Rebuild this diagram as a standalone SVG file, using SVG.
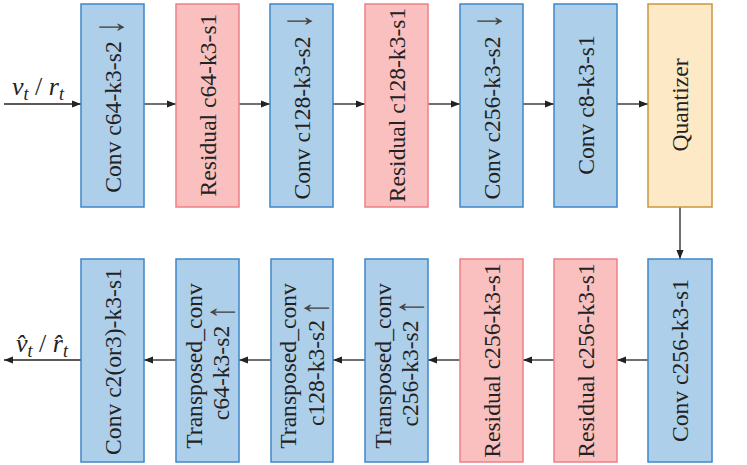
<svg xmlns="http://www.w3.org/2000/svg" width="747" height="465" viewBox="0 0 747 465">
<style>
.blue{fill:#aecfea;stroke:#3f86c8;stroke-width:1.5}
.pink{fill:#fac0bf;stroke:#ef7f87;stroke-width:1.5}
.yel{fill:#fde9c5;stroke:#c9973c;stroke-width:1.5}
.t{font-family:"Liberation Serif","Times New Roman",serif;font-size:23.6px;fill:#222;text-anchor:middle}
.ar{font-family:"Liberation Serif","Times New Roman",serif;font-size:28px;fill:#444;text-anchor:middle}
.m{font-family:"Liberation Serif","Times New Roman",serif;font-style:italic;font-size:26px;fill:#222}
.sub{font-size:18px}
.c{stroke:#222;stroke-width:1.3;fill:none}
</style>
<defs>
<marker id="ah" viewBox="0 0 10 10" refX="10" refY="5" markerWidth="9" markerHeight="9" markerUnits="userSpaceOnUse" orient="auto">
<path d="M0,1 L10,5 L0,9 Z" fill="#222"/>
</marker>
</defs>
<g id="connectors">
<line class="c" x1="4" y1="104" x2="81" y2="104" marker-end="url(#ah)"/>
<line class="c" x1="144" y1="104" x2="176" y2="104" marker-end="url(#ah)"/>
<line class="c" x1="239" y1="104" x2="270" y2="104" marker-end="url(#ah)"/>
<line class="c" x1="333" y1="104" x2="365" y2="104" marker-end="url(#ah)"/>
<line class="c" x1="428" y1="104" x2="460" y2="104" marker-end="url(#ah)"/>
<line class="c" x1="523" y1="104" x2="554" y2="104" marker-end="url(#ah)"/>
<line class="c" x1="617" y1="104" x2="648" y2="104" marker-end="url(#ah)"/>
<line class="c" x1="680" y1="207" x2="680" y2="259" marker-end="url(#ah)"/>
<line class="c" x1="648" y1="360" x2="617" y2="360" marker-end="url(#ah)"/>
<line class="c" x1="554" y1="360" x2="523" y2="360" marker-end="url(#ah)"/>
<line class="c" x1="460" y1="360" x2="428" y2="360" marker-end="url(#ah)"/>
<line class="c" x1="365" y1="360" x2="333" y2="360" marker-end="url(#ah)"/>
<line class="c" x1="271" y1="360" x2="239" y2="360" marker-end="url(#ah)"/>
<line class="c" x1="176" y1="360" x2="144" y2="360" marker-end="url(#ah)"/>
<line class="c" x1="81" y1="360" x2="4" y2="360" marker-end="url(#ah)"/>
</g>
<g id="label-in">
<text class="m" x="12" y="95">v<tspan class="sub" dy="5">t</tspan><tspan dy="-5" font-style="normal"> / </tspan>r<tspan class="sub" dy="5">t</tspan></text>
</g>
<g id="label-out">
<text class="m" x="16" y="352">v̂<tspan class="sub" dy="5">t</tspan><tspan dy="-5" font-style="normal"> / </tspan>r̂<tspan class="sub" dy="5">t</tspan></text>
</g>
<g id="n1"><rect class="blue" x="81" y="4" width="63" height="203"/><text class="t" transform="translate(120.5,117) rotate(-90)">Conv c64-k3-s2</text><text class="ar" transform="translate(123.2,27) rotate(-90) scale(1,1.5)">↓</text></g>
<g id="n2"><rect class="pink" x="176" y="4" width="63" height="203"/><text class="t" transform="translate(215.5,105) rotate(-90)">Residual c64-k3-s1</text></g>
<g id="n3"><rect class="blue" x="270" y="4" width="63" height="203"/><text class="t" transform="translate(309.5,118) rotate(-90)">Conv c128-k3-s2</text><text class="ar" transform="translate(311.2,21) rotate(-90) scale(1,1.5)">↓</text></g>
<g id="n4"><rect class="pink" x="365" y="4" width="63" height="203"/><text class="t" transform="translate(404.5,105) rotate(-90)">Residual c128-k3-s1</text></g>
<g id="n5"><rect class="blue" x="460" y="4" width="63" height="203"/><text class="t" transform="translate(499.5,118) rotate(-90)">Conv c256-k3-s2</text><text class="ar" transform="translate(501.2,21) rotate(-90) scale(1,1.5)">↓</text></g>
<g id="n6"><rect class="blue" x="554" y="4" width="63" height="203"/><text class="t" transform="translate(593.5,105) rotate(-90)">Conv c8-k3-s1</text></g>
<g id="n7"><rect class="yel" x="648" y="4" width="64" height="203"/><text class="t" transform="translate(688,105) rotate(-90)">Quantizer</text></g>
<g id="n8"><rect class="blue" x="648" y="259" width="64" height="203"/><text class="t" transform="translate(688,360.5) rotate(-90)">Conv c256-k3-s1</text></g>
<g id="n9"><rect class="pink" x="554" y="259" width="63" height="203"/><text class="t" transform="translate(593.5,360.5) rotate(-90)">Residual c256-k3-s1</text></g>
<g id="n10"><rect class="pink" x="460" y="259" width="63" height="203"/><text class="t" transform="translate(499.5,360.5) rotate(-90)">Residual c256-k3-s1</text></g>
<g id="n11"><rect class="blue" x="365" y="259" width="63" height="203"/><text class="t" transform="translate(390.5,366) rotate(-90)">Transposed_conv</text><text class="t" transform="translate(418,373.5) rotate(-90)">c256-k3-s2</text><text class="ar" transform="translate(423.2,307) rotate(-90) scale(1,1.5)">↑</text></g>
<g id="n12"><rect class="blue" x="271" y="259" width="62" height="203"/><text class="t" transform="translate(296,366) rotate(-90)">Transposed_conv</text><text class="t" transform="translate(323.5,373) rotate(-90)">c128-k3-s2</text><text class="ar" transform="translate(328.2,308) rotate(-90) scale(1,1.5)">↑</text></g>
<g id="n13"><rect class="blue" x="176" y="259" width="63" height="203"/><text class="t" transform="translate(201.5,366) rotate(-90)">Transposed_conv</text><text class="t" transform="translate(229,373) rotate(-90)">c64-k3-s2</text><text class="ar" transform="translate(234.2,312) rotate(-90) scale(1,1.5)">↑</text></g>
<g id="n14"><rect class="blue" x="81" y="259" width="63" height="203"/><text class="t" transform="translate(120.5,361.5) rotate(-90)">Conv c2(or3)-k3-s1</text></g>
</svg>
